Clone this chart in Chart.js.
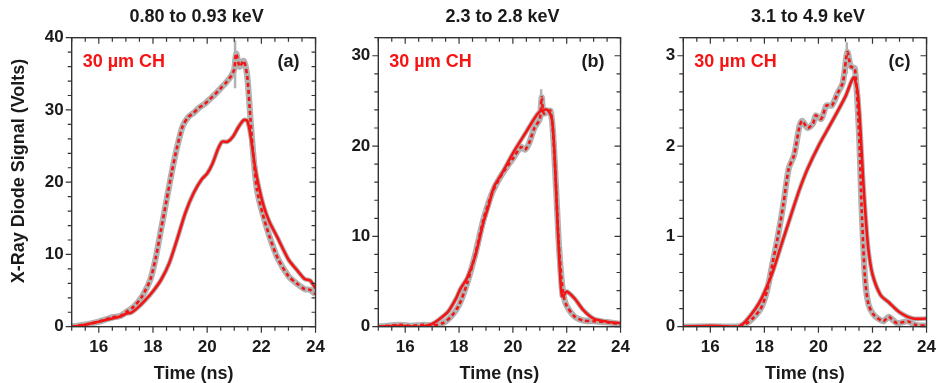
<!DOCTYPE html>
<html><head><meta charset="utf-8">
<script src="https://cdn.jsdelivr.net/npm/chart.js@4/dist/chart.umd.min.js"></script>
<style>
html,body{margin:0;padding:0;background:#fff;}
body{width:946px;height:383px;overflow:hidden;position:relative;}
canvas{position:absolute;top:0;}
</style></head>
<body>
<canvas id="ca" width="335" height="383" style="left:0px"></canvas>
<canvas id="cb" width="305" height="383" style="left:335px"></canvas>
<canvas id="cc" width="306" height="383" style="left:640px"></canvas>
<script>
// ---------- data ----------
const panelTitles = ['0.80 to 0.93 keV', '2.3 to 2.8 keV', '3.1 to 4.9 keV'];
const panelTags = ['(a)', '(b)', '(c)'];
const sampleLabel = '30 µm CH';
const xAxisTitle = 'Time (ns)';
const yAxisTitle = 'X-Ray Diode Signal (Volts)';
const xTicks = [16, 18, 20, 22, 24];
const yTicksA = [0, 10, 20, 30, 40];
const yTicksB = [0, 10, 20, 30];
const yTicksC = [0, 1, 2, 3];

const aSolid = [[15,0],[15.5,0.25],[16,0.7],[16.5,1.15],[16.8,1.4],[17.0,1.8],[17.2,1.95],[17.4,2.5],[17.7,3.6],[18.0,4.9],[18.3,6.5],[18.6,8.8],[18.9,12.2],[19.2,15.8],[19.5,18.5],[19.8,20.4],[20.0,21.2],[20.2,22.6],[20.4,24.6],[20.55,25.6],[20.75,25.6],[20.95,26.3],[21.15,27.6],[21.35,28.6],[21.48,28.5],[21.6,26.5],[21.75,22.5],[21.9,19.5],[22.1,16.5],[22.3,14.5],[22.6,12.3],[23.0,9.3],[23.3,7.9],[23.6,6.6],[23.8,6.4],[24,5.3]];
const aDash = [[15,0],[15.5,0.3],[16,0.7],[16.5,1.3],[16.8,1.5],[17.0,2.0],[17.3,2.8],[17.6,4.2],[17.9,6.5],[18.1,9.5],[18.3,13.5],[18.5,17.5],[18.7,21.5],[18.9,25.0],[19.1,27.8],[19.3,29.0],[19.5,29.6],[19.7,30.3],[19.9,30.8],[20.1,31.5],[20.3,32.2],[20.5,33.0],[20.7,33.8],[20.9,34.8],[21.0,35.6],[21.07,37.8],[21.2,36.0],[21.35,36.8],[21.48,34.6],[21.6,28.6],[21.72,23.0],[21.84,18.9],[22.05,15.6],[22.3,12.5],[22.6,9.5],[23.0,7.0],[23.3,6.0],[23.6,5.2],[23.8,5.1],[24,4.5]];
const aSpike = [[21.03,33],[21.03,39.6]];

const bSolid = [[15,0],[15.8,0.1],[16.5,0.0],[17.0,0.3],[17.3,0.9],[17.6,1.7],[17.9,3.2],[18.05,4.2],[18.3,5.4],[18.6,7.8],[18.9,11.5],[19.1,13.4],[19.3,15.5],[19.6,17.0],[20.0,19.2],[20.5,21.6],[20.9,23.5],[21.1,24.0],[21.3,24.0],[21.45,23.0],[21.55,19.0],[21.65,12.0],[21.75,6.0],[21.82,3.4],[21.9,3.5],[22.0,3.9],[22.3,3.1],[22.6,1.9],[23.0,0.9],[23.5,0.55],[24,0.4]];
const bDash = [[15,0],[15.8,0.2],[16.2,0.1],[16.7,0.2],[17.0,0.1],[17.4,0.4],[17.7,1.1],[18.0,2.4],[18.3,4.8],[18.6,8.0],[18.9,11.8],[19.2,14.6],[19.5,16.4],[19.8,17.8],[20.0,18.6],[20.3,19.9],[20.45,19.6],[20.6,20.3],[20.8,22.0],[21.0,23.0],[21.07,25.4],[21.15,23.6],[21.4,23.9],[21.55,18.5],[21.7,9.5],[21.8,5.5],[21.9,3.2],[22.0,2.3],[22.3,1.1],[22.6,0.7],[23.0,0.6],[23.5,0.5],[24,0.25]];
const bSpike = [[21.05,23.5],[21.05,26.3]];

const cSolid = [[15,0],[16,0.01],[17,0.0],[17.2,0.03],[17.5,0.13],[17.8,0.26],[18.0,0.38],[18.3,0.6],[18.6,0.88],[19.0,1.25],[19.3,1.52],[19.6,1.75],[20.0,2.0],[20.5,2.27],[21.0,2.55],[21.3,2.76],[21.45,2.6],[21.55,2.2],[21.65,1.65],[21.75,1.2],[21.85,0.85],[22.0,0.58],[22.3,0.35],[22.6,0.27],[23.0,0.16],[23.5,0.09],[24,0.09]];
const cDash = [[15,0],[16,0.0],[17,0.0],[17.3,0.03],[17.6,0.1],[17.9,0.22],[18.1,0.4],[18.3,0.7],[18.5,1.0],[18.7,1.35],[18.9,1.75],[19.1,1.9],[19.3,2.22],[19.4,2.28],[19.6,2.2],[19.8,2.25],[19.9,2.34],[20.1,2.3],[20.3,2.45],[20.5,2.45],[20.7,2.58],[20.9,2.7],[21.07,3.04],[21.2,2.88],[21.35,2.86],[21.5,2.15],[21.6,1.3],[21.72,0.55],[21.85,0.25],[22.05,0.13],[22.4,0.06],[22.6,0.11],[22.9,0.04],[23.3,0.06],[23.6,0.02],[24,0.01]];
const cSpike = [[21.05,2.8],[21.05,3.15]];

// ---------- style ----------
const FONT = "'Liberation Sans', Arial, Helvetica, sans-serif";
const RED = 'rgb(245,20,20)';
const GRAY = 'rgb(178,178,178)';
const INK = '#1a1a1a';

const toXY = arr => arr.map(p => ({x: p[0], y: p[1]}));

function framePlugin(cfg) {
  return {
    id: 'frame' + cfg.idx,
    afterDraw(chart) {
      const ctx = chart.ctx, a = chart.chartArea;
      const xs = chart.scales.x, ys = chart.scales.y;
      ctx.save();
      ctx.strokeStyle = '#333';
      ctx.lineWidth = 1.4;
      ctx.strokeRect(a.left, a.top, a.right - a.left, a.bottom - a.top);
      ctx.lineWidth = 1.2;
      ctx.beginPath();
      const MJ = 6, MN = 4;
      for (let v = 15; v <= 24.001; v += 0.5) {
        const px = xs.getPixelForValue(v);
        const major = xTicks.some(t => Math.abs(t - v) < 1e-6);
        const L = major ? MJ : MN;
        ctx.moveTo(px, a.bottom); ctx.lineTo(px, a.bottom + L);
        ctx.moveTo(px, a.top); ctx.lineTo(px, a.top + L);
      }
      for (let k = 0; k * cfg.minor <= cfg.ymax + 1e-9; k++) {
        const v = k * cfg.minor;
        const py = ys.getPixelForValue(v);
        const major = cfg.yTicks.some(t => Math.abs(t - v) < 1e-6);
        const L = major ? MJ : MN;
        ctx.moveTo(a.left, py); ctx.lineTo(a.left - L, py);
        ctx.moveTo(a.right, py); ctx.lineTo(a.right - L, py);
      }
      ctx.stroke();
      // texts
      ctx.textBaseline = 'middle';
      ctx.font = 'bold 18px ' + FONT;
      ctx.fillStyle = INK;
      ctx.textAlign = 'center';
      ctx.fillText(cfg.title, (a.left + a.right) / 2 + 3, 17);
      ctx.fillStyle = RED;
      ctx.textAlign = 'left';
      ctx.fillText(sampleLabel, a.left + 11, 62);
      ctx.fillStyle = INK;
      ctx.textAlign = 'right';
      ctx.fillText(cfg.tag, a.right - 16, 62);
      if (cfg.yTitle) {
        ctx.save();
        ctx.translate(19, 171);
        ctx.rotate(-Math.PI / 2);
        ctx.textAlign = 'center';
        ctx.fillText(yAxisTitle, 0, 0);
        ctx.restore();
      }
      ctx.restore();
    }
  };
}

function makeChart(id, cfg) {
  const datasets = [
    {data: toXY(cfg.solid), borderColor: RED, borderWidth: 2.6, tension: 0.25},
    {data: toXY(cfg.dash), borderColor: RED, borderWidth: 2.6, borderDash: [4, 3], tension: 0.25},
    {data: toXY(cfg.solid), borderColor: GRAY, borderWidth: 4.6, tension: 0.25},
    {data: toXY(cfg.dash), borderColor: GRAY, borderWidth: 6.2, tension: 0.25},
    {data: toXY(cfg.spike), borderColor: GRAY, borderWidth: 2.5, tension: 0}
  ];
  datasets.forEach(d => { d.pointRadius = 0; d.fill = false; d.borderCapStyle = 'butt'; d.borderJoinStyle = 'round'; });
  new Chart(document.getElementById(id), {
    type: 'line',
    data: {datasets},
    options: {
      responsive: false,
      animation: false,
      events: [],
      layout: {padding: {left: 0, right: cfg.padRight, top: 37.7, bottom: 0}},
      plugins: {legend: {display: false}, tooltip: {enabled: false}, title: {display: false}},
      scales: {
        x: {
          type: 'linear', min: 15, max: 24,
          grid: {display: false, drawTicks: false},
          border: {display: false},
          afterBuildTicks: s => { s.ticks = xTicks.map(v => ({value: v})); },
          afterFit: s => { s.height = 56.3; },
          ticks: {padding: 10, color: INK, font: {family: FONT, size: 17, weight: 'bold'}, maxRotation: 0, autoSkip: false},
          title: {display: true, text: xAxisTitle, color: INK, padding: {top: 0, bottom: 0}, font: {family: FONT, size: 18, weight: 'bold', lineHeight: 1}}
        },
        y: {
          type: 'linear', min: 0, max: cfg.ymax,
          grid: {display: false, drawTicks: false},
          border: {display: false},
          afterBuildTicks: s => { s.ticks = cfg.yTicks.map(v => ({value: v})); },
          afterFit: s => { s.width = cfg.yW; },
          ticks: {padding: 8, color: INK, font: {family: FONT, size: 17, weight: 'bold'}, autoSkip: false}
        }
      }
    },
    plugins: [framePlugin(cfg)]
  });
}

makeChart('ca', {idx: 0, solid: aSolid, dash: aDash, spike: aSpike, ymax: 40, yTicks: yTicksA, minor: 2, yW: 71.7, padRight: 11, title: panelTitles[0], tag: panelTags[0], yTitle: true});
makeChart('cb', {idx: 1, solid: bSolid, dash: bDash, spike: bSpike, ymax: 32, yTicks: yTicksB, minor: 2, yW: 43.3, padRight: 10, title: panelTitles[1], tag: panelTags[1], yTitle: false});
makeChart('cc', {idx: 2, solid: cSolid, dash: cDash, spike: cSpike, ymax: 3.2, yTicks: yTicksC, minor: 0.2, yW: 43.3, padRight: 10.3, title: panelTitles[2], tag: panelTags[2], yTitle: false});
</script>
</body></html>
